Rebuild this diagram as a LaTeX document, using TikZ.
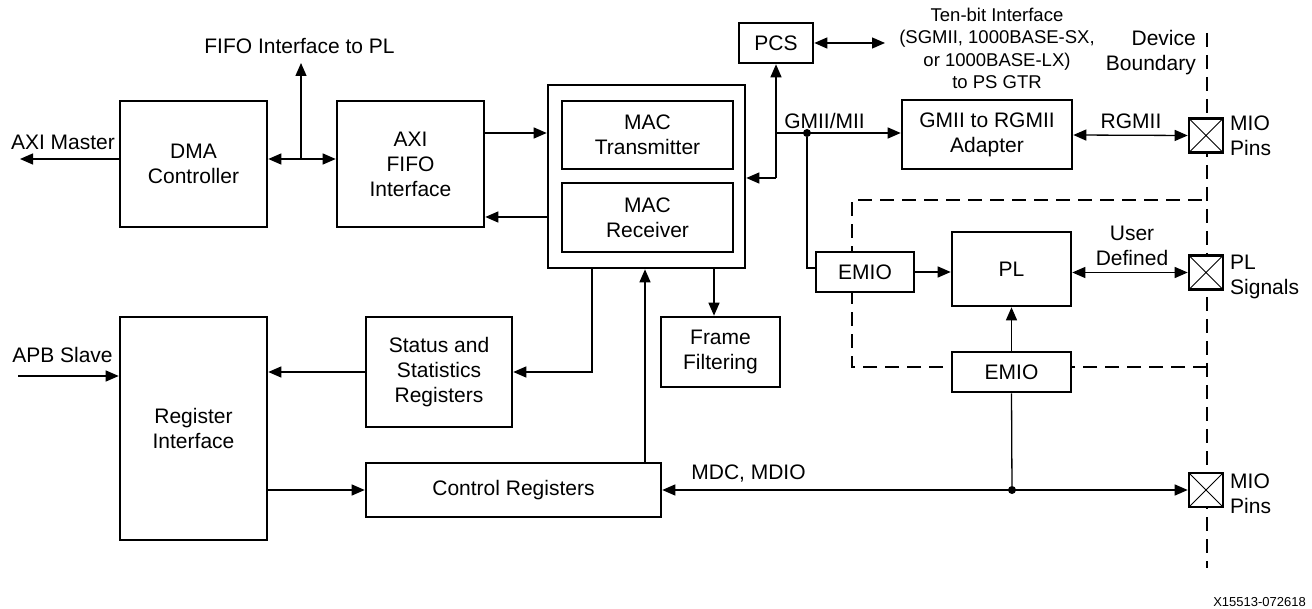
\documentclass[tikz,border=0pt]{standalone}
\usepackage{fontspec}
\setmainfont{Liberation Sans}
\usetikzlibrary{arrows.meta}
\begin{document}
\begin{tikzpicture}[x=1pt,y=-1pt,
  box/.style={draw,line width=2.6pt,fill=white,align=center,inner sep=0pt,font=\fontsize{21}{25}\selectfont},
  lbl/.style={align=center,inner sep=0pt,font=\fontsize{21}{25}\selectfont},
  con/.style={line width=1.3pt},
  arr/.style={con,-{Triangle[length=13pt,width=11pt]}},
  barr/.style={con,{Triangle[length=13pt,width=11pt]}-{Triangle[length=13pt,width=11pt]}},
  pin/.style={draw,line width=2.6pt,fill=white,minimum width=34pt,minimum height=34pt,inner sep=0pt,
    path picture={\draw[line width=1pt] (path picture bounding box.north west)--(path picture bounding box.south east)
      (path picture bounding box.south west)--(path picture bounding box.north east);}},
  bnd/.style={line width=2.4pt,dash pattern=on 14pt off 8pt},
  dot/.style={circle,fill,inner sep=0pt,minimum size=8pt}
]
\useasboundingbox[fill=white] (0,0) rectangle (1312,609);

% device boundary and PL region (drawn first, boxes cover them)
\draw[bnd] (1207,33) -- (1207,568);
\draw[bnd] (1207,367) -- (852,367) -- (852,200) -- (1207,200);

% blocks
\node[box,minimum width=147pt,minimum height=126pt] (dma) at (193.5,164) {DMA\\Controller};
\node[box,minimum width=147pt,minimum height=126pt] (fifo) at (410.5,164) {AXI\\FIFO\\Interface};
\node[box,minimum width=197pt,minimum height=183pt] (mac) at (646.5,176.5) {};
\node[box,minimum width=171pt,minimum height=68pt] (tx) at (647.5,135) {MAC\\Transmitter};
\node[box,minimum width=171pt,minimum height=69pt] (rx) at (647.5,217.5) {MAC\\Receiver};
\node[box,minimum width=74pt,minimum height=40pt] (pcs) at (776,43) {PCS};
\node[box,minimum width=170pt,minimum height=69pt] (gmii) at (987,134.5) {GMII to RGMII\\Adapter};
\node[box,minimum width=98pt,minimum height=40pt] (emio1) at (865,272) {EMIO};
\node[box,minimum width=119pt,minimum height=74pt] (pl) at (1011.5,269) {PL};
\node[box,minimum width=119pt,minimum height=40pt] (emio2) at (1011.5,372) {EMIO};
\node[box,minimum width=147pt,minimum height=223pt] (reg) at (193.5,428.5) {Register\\Interface};
\node[box,minimum width=146pt,minimum height=110pt] (status) at (439,372) {Status and\\Statistics\\Registers};
\node[box,minimum width=119pt,minimum height=70pt] (ff) at (720.5,352) {Frame\\Filtering};
\node[box,minimum width=295pt,minimum height=54pt] (ctrl) at (513.5,490) {Control Registers};
\node[pin] (pin1) at (1206,135.5) {};
\node[pin] (pin2) at (1206,272.5) {};
\node[pin] (pin3) at (1206,490) {};

% labels
\node[lbl] (laxim) at (63,142) {AXI Master};
\node[lbl] (lfifo) at (299.5,46) {FIFO Interface to PL};
\node[lbl] (lapb) at (62.5,355) {APB Slave};
\node[lbl] (lgmii) at (824.5,121) {GMII/MII};
\node[align=center,inner sep=0pt,font=\fontsize{18.5}{22.5}\selectfont] (ltbi) at (997,48.5)
  {Ten-bit Interface\\(SGMII, 1000BASE-SX,\\or 1000BASE-LX)\\to PS GTR};
\node[lbl,align=right,anchor=east] (ldev) at (1196,52.5) {Device\\Boundary};
\node[lbl] (lrgmii) at (1131,121) {RGMII};
\node[lbl,align=left,anchor=west] (lmio1) at (1230,135.5) {MIO\\Pins};
\node[lbl] (luser) at (1132,246) {User\\Defined};
\node[lbl,align=left,anchor=west] (lpls) at (1230,277) {PL\\Signals};
\node[lbl,align=left,anchor=west] (lmio2) at (1230,494) {MIO\\Pins};
\node[lbl] (lmdc) at (748.5,474) {MDC, MDIO};
\node[inner sep=0pt,anchor=east,font=\fontsize{13}{15}\selectfont] (lid) at (1306,602) {X15513-072618};

% free ends and junctions
\coordinate (axim) at (20,159);
\coordinate (apb) at (18,376);
\coordinate (j1) at (301,159);
\coordinate (fifoup) at (301,63);
\coordinate (g1) at (776,178);
\coordinate (g2) at (776,133);
\coordinate (tbiend) at (885,43);
\node[dot] (d1) at (807,133) {};
\node[dot] (d2) at (1012,490) {};

% connectors
\draw[arr] ([yshift=5pt]dma.west) -- (axim);
\draw[barr] ([yshift=5pt]dma.east) -- ([yshift=5pt]fifo.west);
\draw[arr] (j1) -- (fifoup);
\draw[arr] (fifo.east |- 0,133) -- (mac.west |- 0,133);
\draw[arr] (mac.west |- 0,217) -- (fifo.east |- 0,217);
\draw[con] (g1) -- (g2);
\draw[arr] (g1) -- (mac.east |- g1);
\draw[arr] (g2) -- (pcs.south);
\draw[arr] (g2) -- (gmii.west |- g2);
\draw[con] (d1) |- (emio1.west |- 0,268);
\draw[barr] (pcs.east) -- (tbiend);
\draw[barr] (gmii.east |- 0,135) -- (pin1.west);
\draw[arr] (emio1.east) -- (pl.west |- emio1.east);
\draw[barr] (pl.east |- pin2.west) -- (pin2.west);
\draw[arr] (emio2.north) -- (pl.south);
\draw[con] (emio2.south) -- (d2);
\draw[barr] (ctrl.east) -- (pin3.west);
\draw[arr] (645,0 |- ctrl.north) -- (645,0 |- mac.south);
\draw[arr] (592,0 |- mac.south) |- (status.east);
\draw[arr] (714,0 |- mac.south) -- (714,0 |- ff.north);
\draw[arr] (status.west) -- (reg.east |- status.west);
\draw[arr] (apb) -- (reg.west |- apb);
\draw[arr] (reg.east |- ctrl.west) -- (ctrl.west);
\end{tikzpicture}
\end{document}
